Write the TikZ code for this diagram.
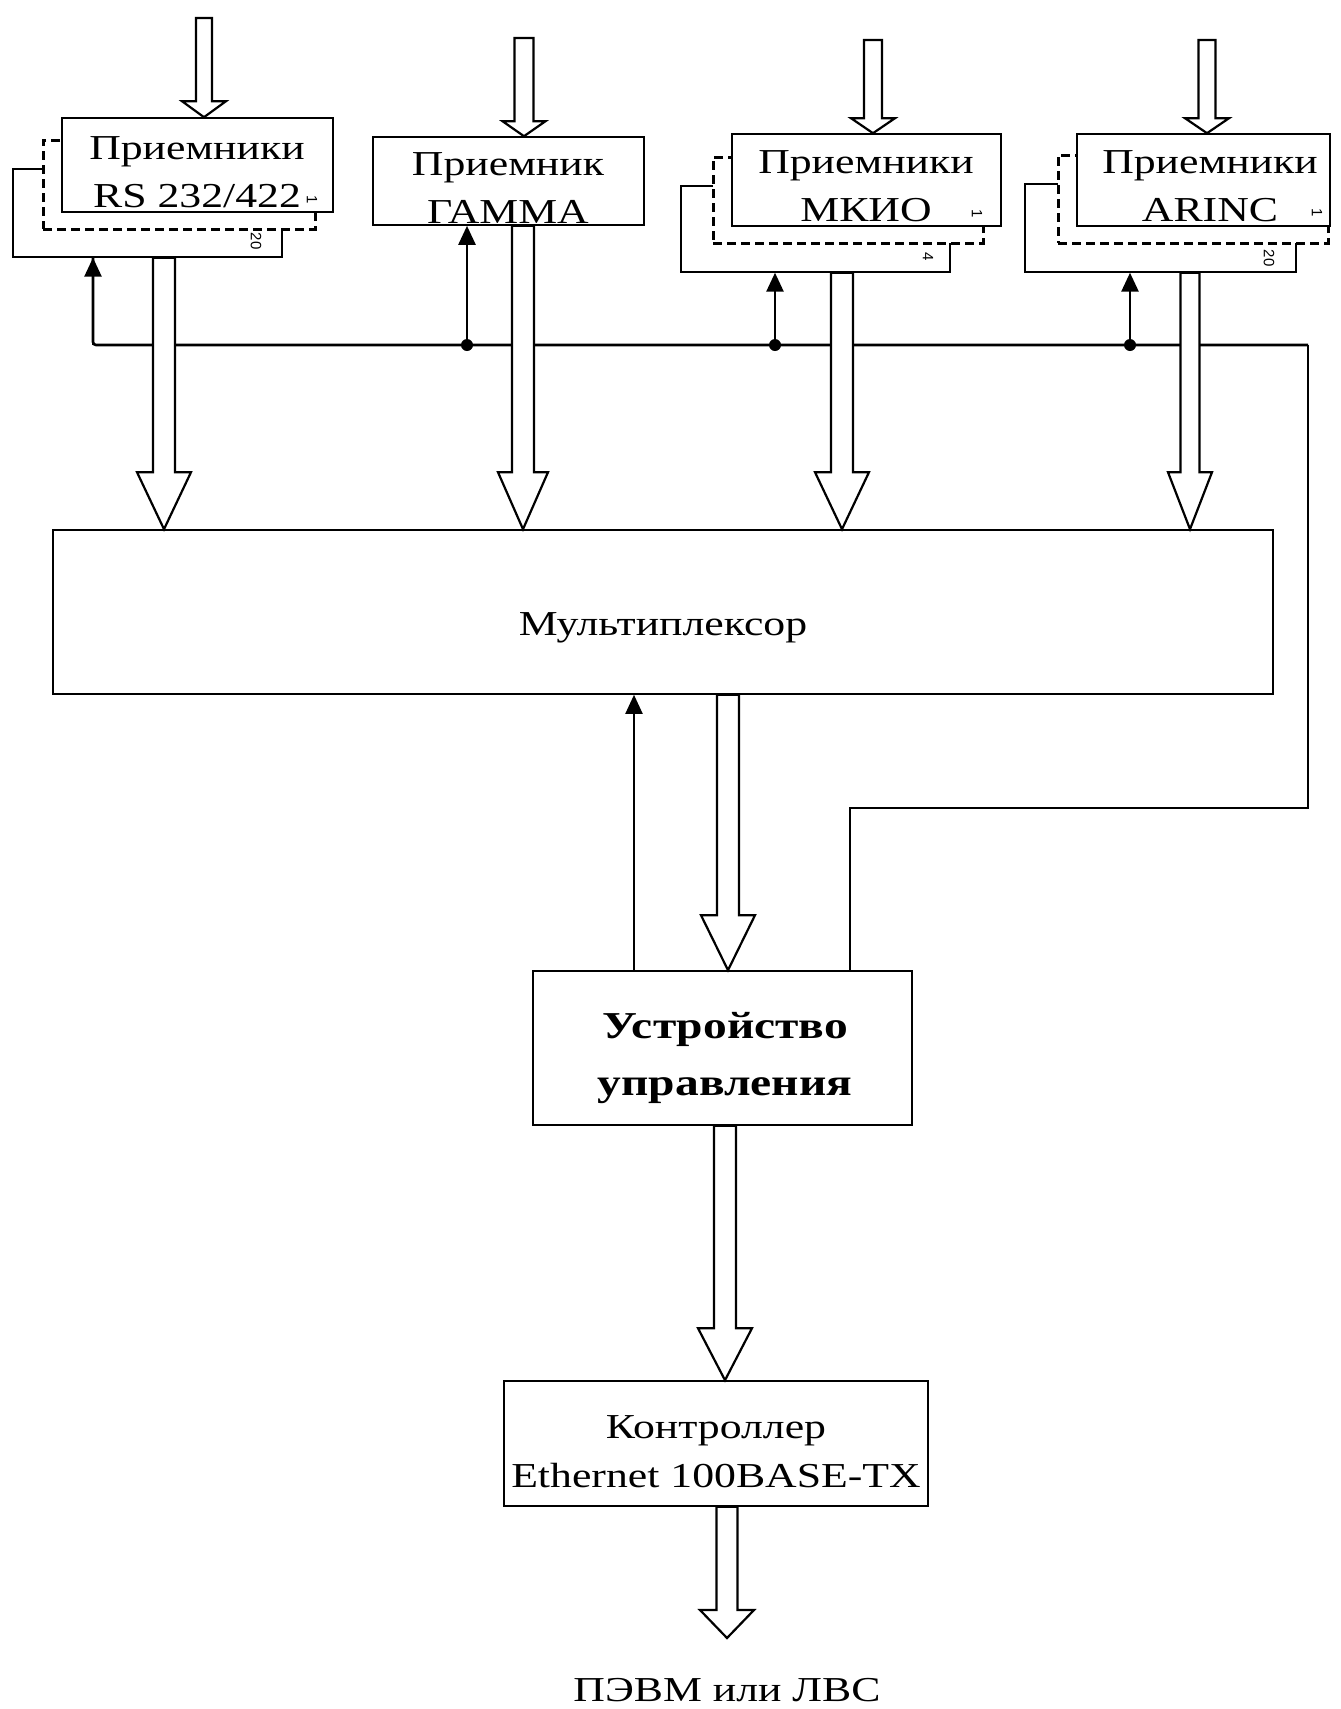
\documentclass[tikz,border=0pt]{standalone}
\usepackage{fontspec}
\setmainfont{Liberation Serif}[FakeStretch=1.25]
\newfontfamily\numfont{Liberation Sans}
\usetikzlibrary{arrows.meta, calc}

% hollow bus arrow: start, tip, shaft half width, head half width, head length
\newcommand{\fatarrow}[5]{%
  \draw[hollow] let \p1=#1, \p2=#2 in
    (\x1-#3,\y1) -- (\x1-#3,\y2+#5) -- (\x1-#4,\y2+#5) -- (\x1,\y2)
    -- (\x1+#4,\y2+#5) -- (\x1+#3,\y2+#5) -- (\x1+#3,\y1) -- cycle;}

\begin{document}
\begin{tikzpicture}[
    x=1pt, y=-1pt,
    font=\fontsize{35pt}{48pt}\selectfont,
    box/.style={rectangle, draw, fill=white, line width=1.6pt, inner sep=0pt},
    backbox/.style={rectangle, draw, fill=white, line width=1.4pt, inner sep=0pt},
    dashbox/.style={rectangle, draw, fill=white, line width=3pt, dash pattern=on 9pt off 5pt, inner sep=0pt},
    txt/.style={anchor=north, inner sep=0pt, align=center},
    num/.style={font=\numfont\fontsize{15pt}{15pt}\selectfont, rotate=-90, inner sep=0pt},
    hollow/.style={draw, fill=white, line width=2.2pt, line join=miter},
    sig/.style={-{Triangle[length=19pt, width=17pt]}, line width=2.6pt},
    bus/.style={line width=2.6pt},
    wire/.style={line width=1.6pt},
    dot/.style={circle, fill, inner sep=0pt, minimum size=12pt}
]
    \fill[white] (0,0) rectangle (1341,1709);
    \useasboundingbox (0,0) rectangle (1341,1709);

    % Receivers RS 232/422
    \node[backbox, minimum width=269pt, minimum height=88pt] (rsBack) at (147.5,213) {};
    \node[dashbox, minimum width=272pt, minimum height=89pt] (rsDash) at (179,184.5) {};
    \node[box, minimum width=271pt, minimum height=94pt] (rsFront) at (197.5,165) {};
    \node[txt] (rsText) at (197,136) {Приемники\\RS 232/422};
    \node[num] (rsN1) at (312,200) {1};
    \node[num] (rsN20) at (256,241) {20};

    % Receiver GAMMA
    \node[box, minimum width=271pt, minimum height=88pt] (gam) at (508.5,181) {};
    \node[txt] (gamText) at (508,152) {Приемник\\ГАММА};

    % Receivers MKIO
    \node[backbox, minimum width=269pt, minimum height=86pt] (mkBack) at (815.5,229) {};
    \node[dashbox, minimum width=270pt, minimum height=86pt] (mkDash) at (848,200) {};
    \node[box, minimum width=269pt, minimum height=92pt] (mkFront) at (866.5,180) {};
    \node[txt] (mkText) at (866,150) {Приемники\\МКИО};
    \node[num] (mkN1) at (977,214) {1};
    \node[num] (mkN4) at (928,257) {4};

    % Receivers ARINC
    \node[backbox, minimum width=271pt, minimum height=88pt] (arBack) at (1160.5,228) {};
    \node[dashbox, minimum width=270pt, minimum height=88pt] (arDash) at (1193,199) {};
    \node[box, minimum width=253pt, minimum height=92pt] (arFront) at (1203.5,180) {};
    \node[txt] (arText) at (1210,150) {Приемники\\ARINC};
    \node[num] (arN1) at (1317,213) {1};
    \node[num] (arN20) at (1269,258) {20};

    % Multiplexer, control unit, controller
    \node[box, minimum width=1220pt, minimum height=164pt] (mux) at (663,612) {};
    \node[txt] (muxText) at (663,612) {Мультиплексор};
    \node[box, minimum width=379pt, minimum height=154pt] (cu) at (722.5,1048) {};
    \node[txt, font=\bfseries\fontsize{38pt}{57pt}\selectfont] (cuText) at (725,1012) {Устройство\\управления};
    \node[box, minimum width=424pt, minimum height=125pt] (eth) at (716,1443.5) {};
    \node[txt, font=\fontsize{35pt}{49pt}\selectfont] (ethText) at (716,1415) {Контроллер\\Ethernet 100BASE-TX};
    \node[txt] (out) at (727,1678) {ПЭВМ или ЛВС};

    % Control bus
    \coordinate (busL) at (93,345);
    \coordinate (busR) at (1308,345);
    \coordinate (cuTap) at (850,808);
    \coordinate (outTip) at (727,1638);
    \node[dot] (jG) at (467,345) {};
    \node[dot] (jM) at (775,345) {};
    \node[dot] (jA) at (1130,345) {};
    \draw[bus, rounded corners=3pt] (busL |- rsBack.south) -- (busL) -- (busR);
    \draw[sig] (busL) -- (busL |- rsBack.south);
    \draw[sig] (jG) -- (jG |- gam.south);
    \draw[sig] (jM) -- (jM |- mkBack.south);
    \draw[sig] (jA) -- (jA |- arBack.south);
    \draw[wire] (busR) |- (cuTap) -- (cuTap |- cu.north);
    \draw[sig, line width=2pt] (634,0 |- cu.north) -- (634,0 |- mux.south);

    % Input data arrows
    \fatarrow{(204,18)}{(204,0 |- rsFront.north)}{8pt}{22pt}{16pt}
    \fatarrow{(524,38)}{(524,0 |- gam.north)}{9.5pt}{21.5pt}{15pt}
    \fatarrow{(873,40)}{(873,0 |- mkFront.north)}{9pt}{22pt}{15pt}
    \fatarrow{(1207,40)}{(1207,0 |- arFront.north)}{8.5pt}{22pt}{15pt}

    % Data to multiplexer
    \fatarrow{(164,0 |- rsBack.south)}{(164,0 |- mux.north)}{11pt}{27pt}{57pt}
    \fatarrow{(523,0 |- gam.south)}{(523,0 |- mux.north)}{11pt}{25pt}{57pt}
    \fatarrow{(842,0 |- mkBack.south)}{(842,0 |- mux.north)}{11pt}{27pt}{57pt}
    \fatarrow{(1190,0 |- arBack.south)}{(1190,0 |- mux.north)}{9.5pt}{22pt}{57pt}

    % Data to control unit, controller and out
    \fatarrow{(728,0 |- mux.south)}{(728,0 |- cu.north)}{11pt}{27pt}{55pt}
    \fatarrow{(725,0 |- cu.south)}{(725,0 |- eth.north)}{11pt}{27pt}{52pt}
    \fatarrow{(727,0 |- eth.south)}{(outTip)}{10.5pt}{27pt}{28pt}
\end{tikzpicture}
\end{document}
